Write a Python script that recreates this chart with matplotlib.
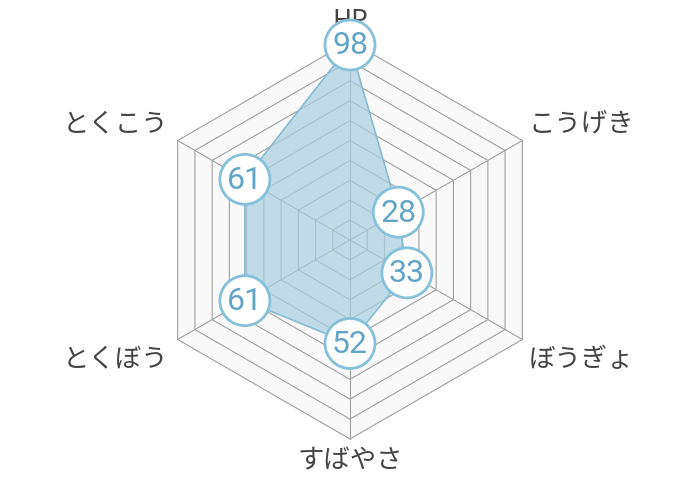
import numpy as np
import matplotlib
matplotlib.use("Agg")
import matplotlib.pyplot as plt
from matplotlib.patches import Polygon, Circle

# ステータス
labels = ["HP", "こうげき", "ぼうぎょ", "すばやさ", "とくぼう", "とくこう"]
values = [98, 28, 33, 52, 61, 61]
max_val = 100
ring_step = 10

plt.rcParams['font.family'] = ['Noto Sans CJK JP', 'DejaVu Sans']

fig = plt.figure(figsize=(7, 4.8), dpi=100)
ax = fig.add_axes([0, 0, 1, 1])
ax.set_xlim(0, 700)
ax.set_ylim(480, 0)
ax.set_aspect('equal')
ax.axis('off')

cx, cy, R = 350, 240, 199
n = len(labels)
ang = np.arange(n) * 2 * np.pi / n


def pos(v, a):
    r = v / max_val * R
    return cx + r * np.sin(a), cy - r * np.cos(a)


# 背景と目盛りの六角形
outer = [pos(max_val, a) for a in ang]
ax.add_patch(Polygon(outer, closed=True, facecolor='#f9f9f9', edgecolor='none', zorder=1))
for lv in range(ring_step, max_val + 1, ring_step):
    pts = [pos(lv, a) for a in ang]
    ax.add_patch(Polygon(pts, closed=True, fill=False, edgecolor='#a0a0a0', lw=0.8, zorder=2))
for a in ang:
    x, y = pos(max_val, a)
    ax.plot([cx, x], [cy, y], color='#a0a0a0', lw=0.8, zorder=2)

# データ
pts = [pos(v, a) for v, a in zip(values, ang)]
ax.add_patch(Polygon(pts, closed=True, facecolor='#a9cfe0', alpha=0.7, edgecolor='none', zorder=3))
ax.add_patch(Polygon(pts, closed=True, fill=False, edgecolor='#86bcd6', lw=1.2, zorder=4))

for (x, y), v in zip(pts, values):
    ax.add_patch(Circle((x, y), 25, facecolor='white', edgecolor='#86c0da', lw=2, zorder=5))
    ax.text(x, y + 1, str(v), ha='center', va='center', fontsize=23, color='#62a4c6',
            family=['Roboto', 'DejaVu Sans'], zorder=6)

# ラベル
lab_style = dict(fontsize=19, color='#444444', zorder=4.5)
for i, (lab, a) in enumerate(zip(labels, ang)):
    x, y = pos(max_val, a)
    if i == 0:
        ax.text(x, y - 6, lab, ha='center', va='bottom', **lab_style)
    elif i == 3:
        ax.text(x, y + 8, lab, ha='center', va='top', **lab_style)
    elif i in (1, 2):
        ax.text(x + 6, y - 3 if i == 1 else y + 7, lab, ha='left', va='bottom' if i == 1 else 'top', **lab_style)
    else:
        ax.text(x - 9, y - 3 if i == 5 else y + 7, lab, ha='right', va='bottom' if i == 5 else 'top', **lab_style)

fig.savefig("out.png", dpi=100)
